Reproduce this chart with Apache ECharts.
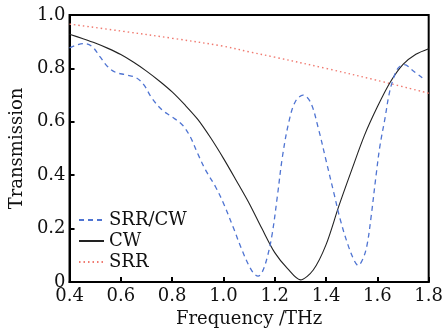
<!DOCTYPE html>
<html>
<head>
<meta charset="utf-8">
<script src="https://cdn.jsdelivr.net/npm/echarts@6/dist/echarts.min.js"></script>
<style>html,body{margin:0;padding:0;background:#fff}#c{width:446px;height:334px}</style>
</head>
<body>
<div id="c"></div>
<script>
// Frequency (THz) and transmission values
var cwFreq = [0.40,0.45,0.50,0.55,0.60,0.65,0.70,0.75,0.80,0.85,0.90,0.95,1.00,1.05,1.10,1.15,1.20,1.25,1.30,1.35,1.40,1.45,1.50,1.55,1.60,1.65,1.70,1.75,1.80];
var cwT    = [0.928,0.912,0.895,0.875,0.852,0.823,0.790,0.753,0.712,0.663,0.609,0.540,0.463,0.380,0.295,0.200,0.110,0.050,0.008,0.045,0.140,0.285,0.420,0.550,0.656,0.748,0.815,0.853,0.874];

var srrFreq = [0.40,0.60,0.80,1.00,1.10,1.20,1.40,1.60,1.80];
var srrT    = [0.966,0.940,0.913,0.883,0.862,0.842,0.800,0.755,0.707];

var scFreq = [0.40,0.43,0.46,0.49,0.52,0.55,0.58,0.62,0.66,0.69,0.72,0.76,0.80,0.84,0.87,0.90,0.93,0.97,1.00,1.04,1.07,1.10,1.12,1.135,1.15,1.17,1.19,1.21,1.23,1.255,1.28,1.31,1.34,1.37,1.40,1.43,1.455,1.485,1.51,1.525,1.545,1.56,1.575,1.595,1.61,1.63,1.645,1.66,1.68,1.705,1.74,1.775];
var scT    = [0.877,0.888,0.893,0.880,0.842,0.805,0.785,0.776,0.765,0.738,0.690,0.645,0.618,0.588,0.545,0.480,0.420,0.355,0.295,0.200,0.125,0.060,0.030,0.022,0.035,0.090,0.180,0.320,0.470,0.600,0.675,0.700,0.672,0.575,0.455,0.335,0.235,0.140,0.080,0.062,0.090,0.140,0.240,0.400,0.510,0.615,0.700,0.755,0.800,0.814,0.790,0.765];

var xTicks = [0.4,0.6,0.8,1.0,1.2,1.4,1.6,1.8];
var yTicks = [0,0.2,0.4,0.6,0.8,1.0];
var seriesNames = ['SRR/CW','CW','SRR'];

function zip(a,b){return a.map(function(v,i){return [v,b[i]];});}

var FONT = 'DejaVu Serif';
var chart = echarts.init(document.getElementById('c'), null, {renderer:'canvas'});
chart.setOption({
  animation:false,
  backgroundColor:'#fff',
  grid:{left:63,right:11,top:15,bottom:52,show:true,borderColor:'#000',borderWidth:2,backgroundColor:'transparent'},
  legend:{
    orient:'vertical',left:73,top:206,itemWidth:25,itemHeight:14,itemGap:3,
    data:seriesNames,
    itemStyle:{opacity:0},
    textStyle:{fontFamily:FONT,fontSize:18,color:'#111'}
  },
  xAxis:{
    type:'value',min:xTicks[0],max:xTicks[xTicks.length-1],interval:0.2,
    name:'Frequency /THz',nameLocation:'middle',nameGap:25,
    nameTextStyle:{fontFamily:FONT,fontSize:18,color:'#111'},
    axisLine:{show:true,lineStyle:{color:'#000',width:2}},
    axisTick:{show:true,inside:true,length:5,lineStyle:{color:'#000',width:2}},
    axisLabel:{fontFamily:FONT,fontSize:18,color:'#111',margin:5,formatter:function(v){return v.toFixed(1);}},
    splitLine:{show:false}
  },
  yAxis:{
    type:'value',min:yTicks[0],max:yTicks[yTicks.length-1],interval:0.2,
    name:'Transmission',nameLocation:'middle',nameGap:41,
    nameTextStyle:{fontFamily:FONT,fontSize:18,color:'#111'},
    axisLine:{show:true,lineStyle:{color:'#000',width:2}},
    axisTick:{show:true,inside:true,length:5,lineStyle:{color:'#000',width:2}},
    axisLabel:{fontFamily:FONT,fontSize:18,color:'#111',margin:4,formatter:function(v){return v===0?'0':v.toFixed(1);}},
    splitLine:{show:false}
  },
  series:[
    {name:seriesNames[0],type:'line',data:zip(scFreq,scT),symbol:'none',smooth:0.35,
     lineStyle:{color:'#4f74d2',width:1.3,type:[5,4]},itemStyle:{color:'#4f74d2'},z:3},
    {name:seriesNames[1],type:'line',data:zip(cwFreq,cwT),symbol:'none',smooth:0.3,
     lineStyle:{color:'#222',width:1.1,type:'solid'},itemStyle:{color:'#222'},z:2},
    {name:seriesNames[2],type:'line',data:zip(srrFreq,srrT),symbol:'none',smooth:0.35,
     lineStyle:{color:'#f07a70',width:1.4,type:[1.5,3]},itemStyle:{color:'#f07a70'},z:1}
  ]
});
</script>
</body>
</html>
